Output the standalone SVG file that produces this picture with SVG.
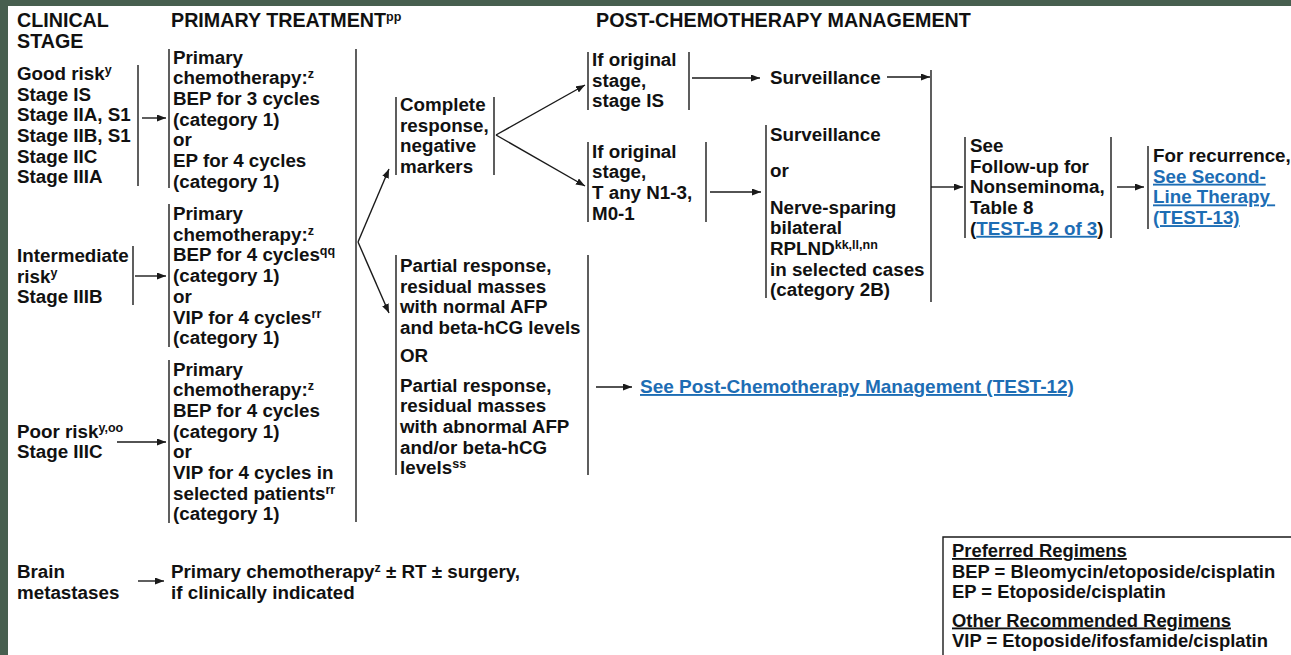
<svg xmlns="http://www.w3.org/2000/svg" width="1291" height="655" viewBox="0 0 1291 655">
<style>
text{font-family:"Liberation Sans",Arial,sans-serif;font-weight:bold;font-size:18.8px;fill:#111}
.h{font-size:19.7px}
.lg{font-size:18.4px}
.sup{font-size:12.5px}
.lk{fill:#1d6db4;text-decoration:underline}
.lk2{font-size:19px}
.ul{text-decoration:underline}
.br{stroke:#1a1a1a;stroke-width:1.4;fill:none}
.cn{stroke:#1a1a1a;stroke-width:1.4;fill:none}
.ar{marker-end:url(#ah)}
</style>
<defs>
<marker id="ah" markerUnits="userSpaceOnUse" markerWidth="9" markerHeight="7" refX="9" refY="3.5" orient="auto">
<path d="M0,0 L9,3.5 L0,7 z" fill="#1a1a1a"/>
</marker>
</defs>
<rect x="0" y="0" width="1291" height="655" fill="#ffffff"/>
<rect x="0" y="0" width="1291" height="6" fill="#475f4f"/>
<rect x="0" y="0" width="8" height="655" fill="#475f4f"/>

<g id="headers">
<text class="h" x="17" y="27">CLINICAL</text>
<text class="h" x="17" y="48">STAGE</text>
<text class="h" x="171" y="27">PRIMARY TREATMENT<tspan class="sup" dy="-6">pp</tspan></text>
<text class="h" x="596" y="27">POST-CHEMOTHERAPY MANAGEMENT</text>
</g>

<g id="good-risk">
<text x="17" y="80">Good risk<tspan class="sup" dy="-6">y</tspan></text>
<text x="17" y="100.7">Stage IS</text>
<text x="17" y="121.4">Stage IIA, S1</text>
<text x="17" y="142">Stage IIB, S1</text>
<text x="17" y="162.7">Stage IIC</text>
<text x="17" y="183.4">Stage IIIA</text>
<path class="br" d="M138,65 V186"/>
</g>

<g id="primary-good">
<path class="br" d="M169,49 V188"/>
<text x="173" y="63.5">Primary</text>
<text x="173" y="84.2">chemotherapy:<tspan class="sup" dy="-6">z</tspan></text>
<text x="173" y="104.9">BEP for 3 cycles</text>
<text x="173" y="125.6">(category 1)</text>
<text x="173" y="146.3">or</text>
<text x="173" y="167">EP for 4 cycles</text>
<text x="173" y="187.7">(category 1)</text>
</g>

<g id="intermediate-risk">
<text x="17" y="262">Intermediate</text>
<text x="17" y="282.5">risk<tspan class="sup" dy="-6">y</tspan></text>
<text x="17" y="303">Stage IIIB</text>
<path class="br" d="M133,246 V305"/>
</g>

<g id="primary-intermediate">
<path class="br" d="M169,204 V347"/>
<text x="173" y="220">Primary</text>
<text x="173" y="240.7">chemotherapy:<tspan class="sup" dy="-6">z</tspan></text>
<text x="173" y="261.4">BEP for 4 cycles<tspan class="sup" dy="-6">qq</tspan></text>
<text x="173" y="282.1">(category 1)</text>
<text x="173" y="302.8">or</text>
<text x="173" y="323.5">VIP for 4 cycles<tspan class="sup" dy="-6">rr</tspan></text>
<text x="173" y="344.2">(category 1)</text>
</g>

<g id="poor-risk">
<text x="17" y="437.5">Poor risk<tspan class="sup" dy="-6">y,oo</tspan></text>
<text x="17" y="458">Stage IIIC</text>
</g>

<g id="primary-poor">
<path class="br" d="M169,360 V523"/>
<text x="173" y="375.5">Primary</text>
<text x="173" y="396.2">chemotherapy:<tspan class="sup" dy="-6">z</tspan></text>
<text x="173" y="416.9">BEP for 4 cycles</text>
<text x="173" y="437.6">(category 1)</text>
<text x="173" y="458.3">or</text>
<text x="173" y="479">VIP for 4 cycles in</text>
<text x="173" y="499.7">selected patients<tspan class="sup" dy="-6">rr</tspan></text>
<text x="173" y="520.4">(category 1)</text>
</g>

<g id="primary-bar">
<path class="br" d="M356,49 V522"/>
</g>

<g id="brain">
<text x="17" y="578">Brain</text>
<text x="17" y="599">metastases</text>
</g>

<g id="brain-treatment">
<text x="171" y="578">Primary chemotherapy<tspan class="sup" dy="-6">z</tspan><tspan dy="6"> ± RT ± surgery,</tspan></text>
<text x="171" y="599">if clinically indicated</text>
</g>

<g id="complete-response">
<path class="br" d="M396,97 V175 M494,97 V175"/>
<text x="400" y="111">Complete</text>
<text x="400" y="131.7">response,</text>
<text x="400" y="152.4">negative</text>
<text x="400" y="173.1">markers</text>
</g>

<g id="partial-response">
<path class="br" d="M396,255 V475 M588,255 V475"/>
<text x="400" y="272">Partial response,</text>
<text x="400" y="292.7">residual masses</text>
<text x="400" y="313.4">with normal AFP</text>
<text x="400" y="334.1">and beta-hCG levels</text>
<text x="400" y="362">OR</text>
<text x="400" y="391.5">Partial response,</text>
<text x="400" y="412.2">residual masses</text>
<text x="400" y="432.9">with abnormal AFP</text>
<text x="400" y="453.6">and/or beta-hCG</text>
<text x="400" y="474.3">levels<tspan class="sup" dy="-6">ss</tspan></text>
</g>

<g id="see-post-chemo">
<text class="lk lk2" x="640" y="393">See Post-Chemotherapy Management (TEST-12)</text>
</g>

<g id="stage-is">
<path class="br" d="M588,52 V110 M689,52 V110"/>
<text x="592" y="66">If original</text>
<text x="592" y="86.7">stage,</text>
<text x="592" y="107.4">stage IS</text>
</g>

<g id="surveillance-1">
<text x="770" y="84">Surveillance</text>
</g>

<g id="stage-tany">
<path class="br" d="M588,142 V222 M706,142 V222"/>
<text x="592" y="157.5">If original</text>
<text x="592" y="178.2">stage,</text>
<text x="592" y="198.9">T any N1-3,</text>
<text x="592" y="219.6">M0-1</text>
</g>

<g id="surveillance-or-rplnd">
<path class="br" d="M766,125 V298"/>
<text x="770" y="141">Surveillance</text>
<text x="770" y="177">or</text>
<text x="770" y="213.5">Nerve-sparing</text>
<text x="770" y="234.2">bilateral</text>
<text x="770" y="254.9">RPLND<tspan class="sup" dy="-6">kk,ll,nn</tspan></text>
<text x="770" y="275.6">in selected cases</text>
<text x="770" y="296.3">(category 2B)</text>
</g>

<g id="follow-up">
<path class="br" d="M965,137 V238 M1111,137 V238"/>
<text x="970" y="152">See</text>
<text x="970" y="172.7">Follow-up for</text>
<text x="970" y="193.4">Nonseminoma,</text>
<text x="970" y="214.1">Table 8</text>
<text x="970" y="234.8">(<tspan class="lk">TEST-B 2 of 3</tspan>)</text>
</g>

<g id="recurrence">
<path class="br" d="M1148,146 V229"/>
<text x="1153" y="162">For recurrence,</text>
<text class="lk" x="1153" y="182.7">See Second-</text>
<text class="lk" x="1153" y="203.4" xml:space="preserve">Line Therapy </text>
<text class="lk" x="1153" y="224.1">(TEST-13)</text>
</g>

<g id="legend">
<path class="br" d="M1291,537 H943 V655"/>
<text class="ul lg" x="952" y="557">Preferred Regimens</text>
<text class="lg" x="952" y="577.5">BEP = Bleomycin/etoposide/cisplatin</text>
<text class="lg" x="952" y="598">EP = Etoposide/cisplatin</text>
<text class="ul lg" x="952" y="626.5">Other Recommended Regimens</text>
<text class="lg" x="952" y="647">VIP = Etoposide/ifosfamide/cisplatin</text>
</g>

<g id="connectors">
<path class="cn ar" d="M142,118 H166"/>
<path class="cn ar" d="M135,276 H166"/>
<path class="cn ar" d="M117,442 H166"/>
<path class="cn ar" d="M138,581 H164"/>
<path class="cn ar" d="M358,242 L389,169"/>
<path class="cn ar" d="M358,242 L389,313"/>
<path class="cn ar" d="M496,135 L585,85"/>
<path class="cn ar" d="M496,135 L585,186"/>
<path class="cn ar" d="M692,78 H760"/>
<path class="cn ar" d="M887,77 H930"/>
<path class="cn ar" d="M710,192 H761"/>
<path class="cn" d="M931,70 V302"/>
<path class="cn ar" d="M931,187 H963"/>
<path class="cn ar" d="M1117,187 H1144"/>
<path class="cn ar" d="M596,387 H632"/>
</g>
</svg>
